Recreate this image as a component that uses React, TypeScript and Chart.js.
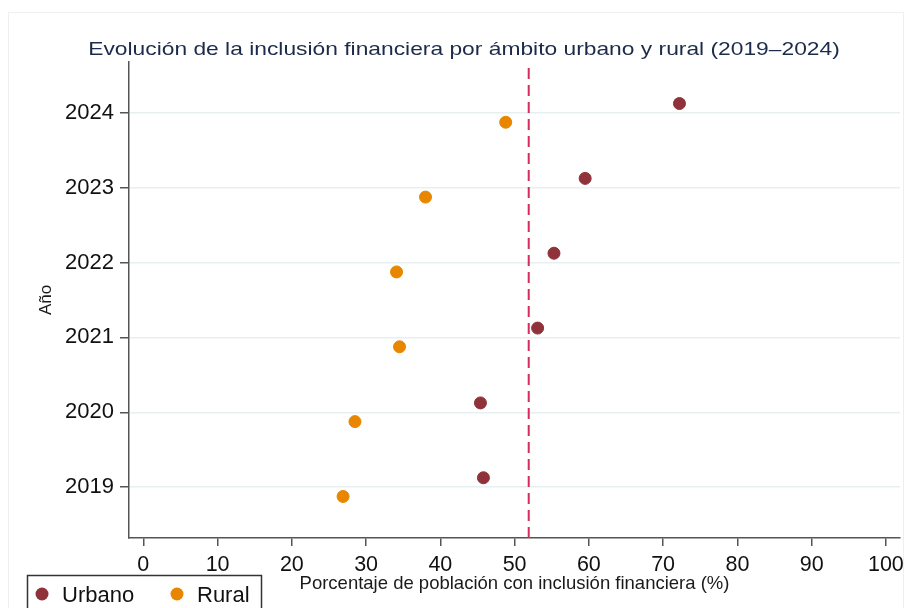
import { useEffect, useRef } from "react";
import { Chart, registerables } from "chart.js";

Chart.register(...registerables);

// ---- Data ----
const YEARS = [2019, 2020, 2021, 2022, 2023, 2024];
const URBANO = [45.8, 45.4, 53.1, 55.3, 59.5, 72.2];
const RURAL = [26.9, 28.5, 34.5, 34.1, 38.0, 48.8];
const REFERENCE_VALUE = 51.9;
const X_TICKS = [0, 10, 20, 30, 40, 50, 60, 70, 80, 90, 100];
const SERIES_LABELS = ["Urbano", "Rural"];
const TITLE = "Evolución de la inclusión financiera por ámbito urbano y rural (2019–2024)";
const X_TITLE = "Porcentaje de población con inclusión financiera (%)";
const Y_TITLE = "Año";

// ---- Style ----
const URBANO_COLOR = "#8f3239";
const RURAL_COLOR = "#e88600";
const REF_COLOR = "#d42c5c";
const FONT = '"Liberation Sans", Arial, sans-serif';
const OFFSET = 0.125;
const X_MIN = -1.93;
const X_MAX = 101.9;
const Y_MIN = 2018.32;
const Y_MAX = 2024.68;

const decorPlugin = {
  id: "decor",
  beforeDraw(chart: any) {
    const ctx = chart.ctx;
    ctx.save();
    ctx.fillStyle = "#ffffff";
    ctx.fillRect(0, 0, chart.width, chart.height);
    ctx.strokeStyle = "#efefef";
    ctx.lineWidth = 1;
    ctx.strokeRect(8.5, 12.5, 895, 600);
    ctx.restore();
  },
  afterDraw(chart: any) {
    const ctx = chart.ctx;
    // Title (slightly wide lettering as in the reference)
    ctx.save();
    ctx.font = `19px ${FONT}`;
    ctx.fillStyle = "#1c2b4a";
    ctx.textAlign = "center";
    ctx.textBaseline = "alphabetic";
    ctx.translate(464, 55);
    ctx.scale(1.2, 1);
    ctx.fillText(TITLE, 0, 0);
    ctx.restore();

    // Legend
    ctx.save();
    ctx.strokeStyle = "#333333";
    ctx.lineWidth = 1.5;
    ctx.strokeRect(27.5, 575.5, 234, 40);
    const ds = chart.data.datasets;
    const items = [
      { x: 42, tx: 62, label: ds[0].label, color: ds[0].backgroundColor },
      { x: 177, tx: 197, label: ds[1].label, color: ds[1].backgroundColor },
    ];
    ctx.font = `22px ${FONT}`;
    ctx.textAlign = "left";
    ctx.textBaseline = "alphabetic";
    for (const it of items) {
      ctx.fillStyle = it.color;
      ctx.beginPath();
      ctx.arc(it.x, 594, 6.5, 0, Math.PI * 2);
      ctx.fill();
      ctx.fillStyle = "#111111";
      ctx.fillText(it.label, it.tx, 602);
    }
    ctx.restore();
  },
};

export default function App() {
  const canvasRef = useRef<HTMLCanvasElement | null>(null);

  useEffect(() => {
    if (!canvasRef.current) return;
    const chart = new Chart(canvasRef.current, {
      type: "scatter",
      data: {
        datasets: [
          {
            label: SERIES_LABELS[0],
            data: YEARS.map((y, i) => ({ x: URBANO[i], y: y + OFFSET })),
            backgroundColor: URBANO_COLOR,
            borderColor: URBANO_COLOR,
            borderWidth: 1,
            pointRadius: 6,
            order: 1,
          },
          {
            label: SERIES_LABELS[1],
            data: YEARS.map((y, i) => ({ x: RURAL[i], y: y - OFFSET })),
            backgroundColor: RURAL_COLOR,
            borderColor: RURAL_COLOR,
            borderWidth: 1,
            pointRadius: 6,
            order: 2,
          },
          {
            type: "line",
            label: "ref",
            data: [
              { x: REFERENCE_VALUE, y: Y_MIN },
              { x: REFERENCE_VALUE, y: Y_MAX },
            ],
            borderColor: REF_COLOR,
            backgroundColor: REF_COLOR,
            borderWidth: 2,
            borderDash: [11, 6],
            pointRadius: 0,
            order: 10,
          } as any,
        ],
      },
      options: {
        responsive: false,
        animation: false,
        devicePixelRatio: 1,
        layout: { padding: { top: 62, right: 7, bottom: 0, left: 0 } },
        plugins: {
          legend: { display: false },
          tooltip: { enabled: false },
          title: { display: false },
        },
        scales: {
          x: {
            type: "linear",
            position: "bottom",
            min: X_MIN,
            max: X_MAX,
            afterBuildTicks: (s: any) => {
              s.ticks = X_TICKS.map((v) => ({ value: v }));
            },
            afterFit: (s: any) => {
              s.height = 70;
              s.paddingLeft = 0;
              s.paddingRight = 0;
            },
            ticks: {
              font: { family: FONT, size: 21.5 },
              color: "#111111",
              padding: 6,
              maxRotation: 0,
              autoSkip: false,
              callback: (v: any) => String(v),
            },
            grid: {
              drawOnChartArea: false,
              drawTicks: true,
              tickLength: 8,
              color: "#555555",
              tickColor: "#555555",
              lineWidth: 1.5,
            },
            border: { display: true, color: "#555555", width: 1.5 },
            title: {
              display: true,
              text: X_TITLE,
              font: { family: FONT, size: 18.5 },
              color: "#1a1a1a",
              padding: { top: 0, bottom: 13 },
            },
          },
          y: {
            type: "linear",
            min: Y_MIN,
            max: Y_MAX,
            afterBuildTicks: (s: any) => {
              s.ticks = YEARS.map((v) => ({ value: v }));
            },
            afterFit: (s: any) => {
              s.width = 129;
              s.paddingTop = 0;
              s.paddingBottom = 0;
            },
            ticks: {
              font: { family: FONT, size: 22 },
              color: "#111111",
              padding: 6,
              autoSkip: false,
              callback: (v: any) => String(v),
            },
            grid: {
              drawOnChartArea: true,
              drawTicks: true,
              tickLength: 9,
              color: "#e8eff0",
              tickColor: "#555555",
              lineWidth: 1.5,
            },
            border: { display: true, color: "#555555", width: 1.5 },
            title: {
              display: true,
              text: Y_TITLE,
              font: { family: FONT, size: 17 },
              color: "#1a1a1a",
              padding: { top: 36, bottom: 0 },
            },
          },
        },
      },
      plugins: [decorPlugin],
    });
    return () => chart.destroy();
  }, []);

  return (
    <div style={{ position: "absolute", left: 0, top: 0, width: 907, height: 608, background: "#fff" }}>
      <canvas ref={canvasRef} width={907} height={608} style={{ display: "block" }} />
    </div>
  );
}
